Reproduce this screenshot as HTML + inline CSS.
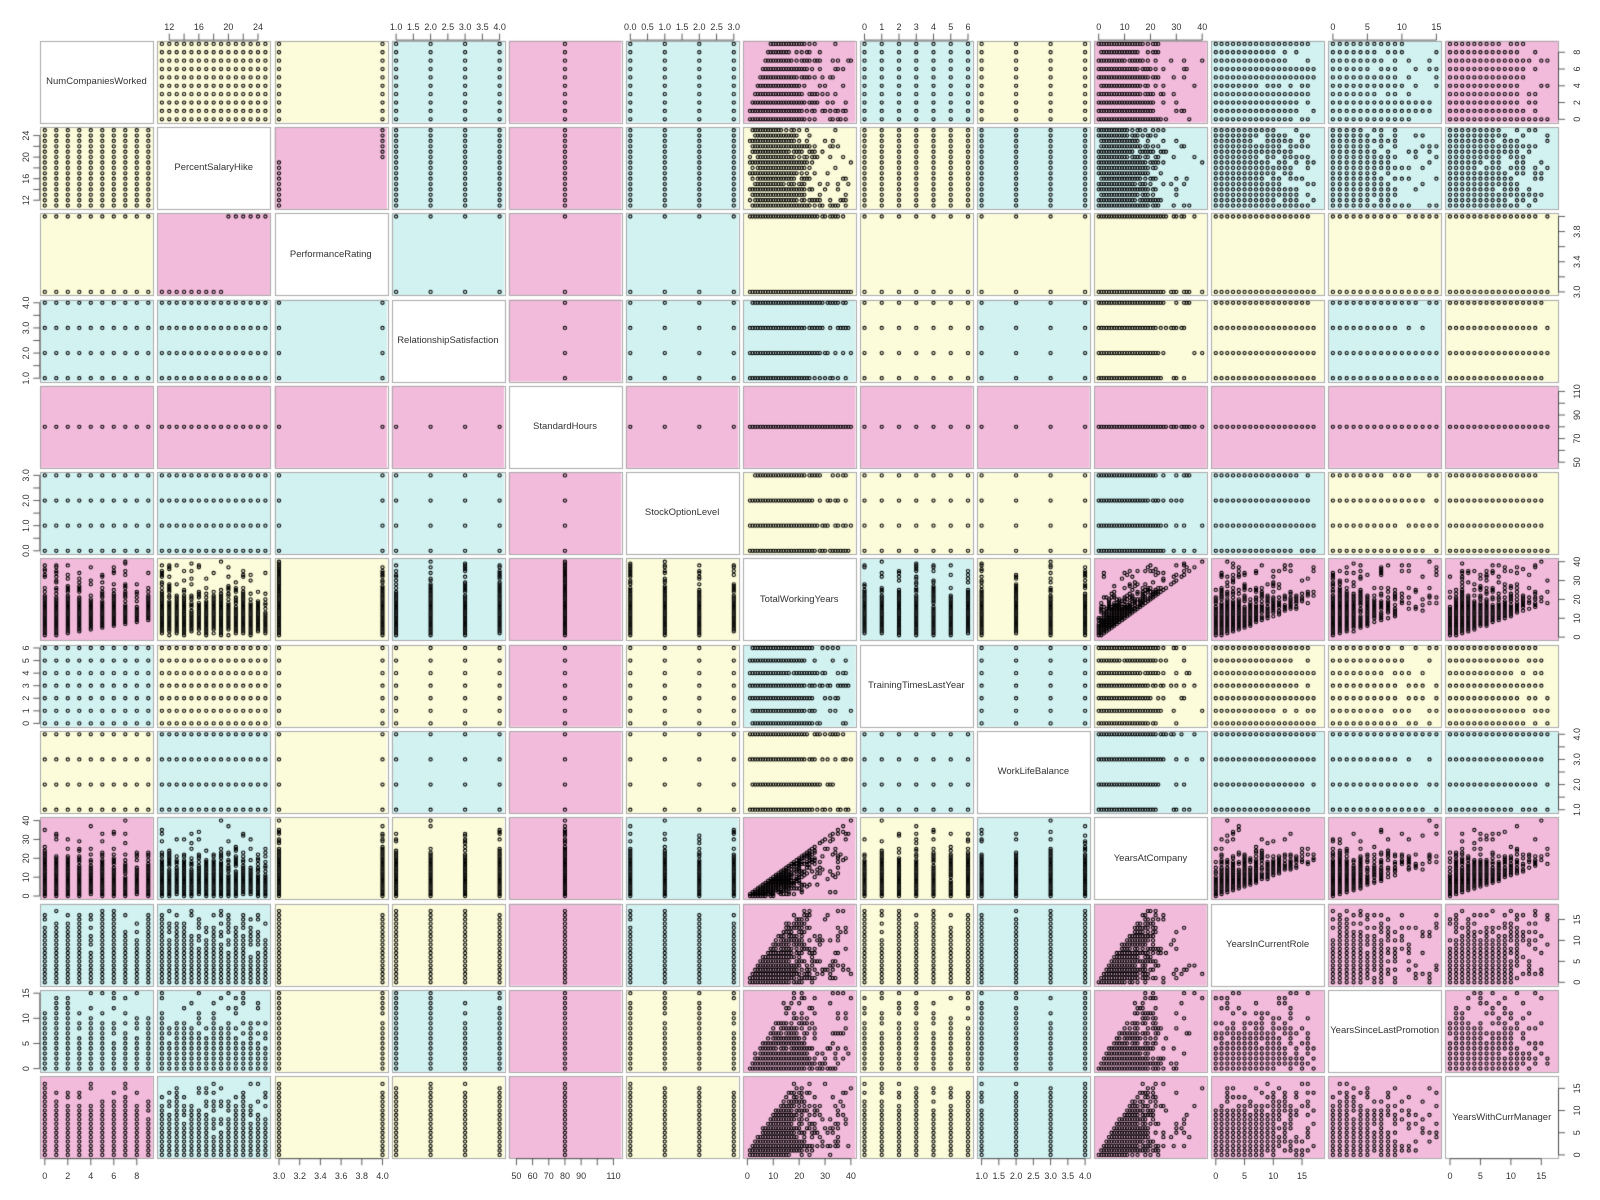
<!DOCTYPE html>
<html><head><meta charset="utf-8">
<style>
html,body{margin:0;padding:0;background:#fff;}
#wrap{position:relative;width:1600px;height:1200px;overflow:hidden;}
canvas,svg{position:absolute;left:0;top:0;}
svg text{font-family:"Liberation Sans",sans-serif;fill:#333;}
.t{font-size:9px;text-anchor:middle;}
.d{font-size:9.5px;text-anchor:middle;fill:#111;}
</style></head><body>
<div id="wrap">
<canvas id="c" width="1600" height="1200"></canvas>
<svg width="1600" height="1200" viewBox="0 0 1600 1200">
<g class="t">
<text x="169.3" y="30">12</text><text x="198.9" y="30">16</text><text x="228.4" y="30">20</text><text x="258.0" y="30">24</text>
<text x="396.1" y="30">1.0</text><text x="413.3" y="30">1.5</text><text x="430.6" y="30">2.0</text><text x="447.9" y="30">2.5</text><text x="465.1" y="30">3.0</text><text x="482.4" y="30">3.5</text><text x="499.6" y="30">4.0</text>
<text x="630.3" y="30">0.0</text><text x="647.5" y="30">0.5</text><text x="664.8" y="30">1.0</text><text x="682.1" y="30">1.5</text><text x="699.3" y="30">2.0</text><text x="716.6" y="30">2.5</text><text x="733.8" y="30">3.0</text>
<text x="864.5" y="30">0</text><text x="881.8" y="30">1</text><text x="899.0" y="30">2</text><text x="916.3" y="30">3</text><text x="933.5" y="30">4</text><text x="950.8" y="30">5</text><text x="968.0" y="30">6</text>
<text x="1098.7" y="30">0</text><text x="1124.6" y="30">10</text><text x="1150.5" y="30">20</text><text x="1176.4" y="30">30</text><text x="1202.2" y="30">40</text>
<text x="1332.9" y="30">0</text><text x="1367.4" y="30">5</text><text x="1401.9" y="30">10</text><text x="1436.4" y="30">15</text>
<text x="44.8" y="1179">0</text><text x="67.8" y="1179">2</text><text x="90.8" y="1179">4</text><text x="113.8" y="1179">6</text><text x="136.8" y="1179">8</text>
<text x="279.0" y="1179">3.0</text><text x="299.7" y="1179">3.2</text><text x="320.4" y="1179">3.4</text><text x="341.1" y="1179">3.6</text><text x="361.8" y="1179">3.8</text><text x="382.5" y="1179">4.0</text>
<text x="516.4" y="1179">50</text><text x="532.6" y="1179">60</text><text x="548.8" y="1179">70</text><text x="565.0" y="1179">80</text><text x="581.1" y="1179">90</text><text x="613.5" y="1179">110</text>
<text x="747.4" y="1179">0</text><text x="773.3" y="1179">10</text><text x="799.2" y="1179">20</text><text x="825.1" y="1179">30</text><text x="850.9" y="1179">40</text>
<text x="981.6" y="1179">1.0</text><text x="998.8" y="1179">1.5</text><text x="1016.1" y="1179">2.0</text><text x="1033.4" y="1179">2.5</text><text x="1050.6" y="1179">3.0</text><text x="1067.9" y="1179">3.5</text><text x="1085.1" y="1179">4.0</text>
<text x="1215.8" y="1179">0</text><text x="1244.5" y="1179">5</text><text x="1273.3" y="1179">10</text><text x="1302.0" y="1179">15</text>
<text x="1450.0" y="1179">0</text><text x="1480.4" y="1179">5</text><text x="1510.9" y="1179">10</text><text x="1541.3" y="1179">15</text>
<text transform="translate(29,200.2) rotate(-90)">12</text><text transform="translate(29,178.7) rotate(-90)">16</text><text transform="translate(29,157.1) rotate(-90)">20</text><text transform="translate(29,135.6) rotate(-90)">24</text>
<text transform="translate(29,378.2) rotate(-90)">1.0</text><text transform="translate(29,353.1) rotate(-90)">2.0</text><text transform="translate(29,328.0) rotate(-90)">3.0</text><text transform="translate(29,302.8) rotate(-90)">4.0</text>
<text transform="translate(29,550.8) rotate(-90)">0.0</text><text transform="translate(29,525.7) rotate(-90)">1.0</text><text transform="translate(29,500.6) rotate(-90)">2.0</text><text transform="translate(29,475.4) rotate(-90)">3.0</text>
<text transform="translate(29,723.4) rotate(-90)">0</text><text transform="translate(29,710.8) rotate(-90)">1</text><text transform="translate(29,698.3) rotate(-90)">2</text><text transform="translate(29,685.7) rotate(-90)">3</text><text transform="translate(29,673.1) rotate(-90)">4</text><text transform="translate(29,660.6) rotate(-90)">5</text><text transform="translate(29,648.0) rotate(-90)">6</text>
<text transform="translate(29,896.0) rotate(-90)">0</text><text transform="translate(29,877.2) rotate(-90)">10</text><text transform="translate(29,858.3) rotate(-90)">20</text><text transform="translate(29,839.4) rotate(-90)">30</text><text transform="translate(29,820.6) rotate(-90)">40</text>
<text transform="translate(29,1068.6) rotate(-90)">0</text><text transform="translate(29,1043.5) rotate(-90)">5</text><text transform="translate(29,1018.3) rotate(-90)">10</text><text transform="translate(29,993.2) rotate(-90)">15</text>
<text transform="translate(1580,119.3) rotate(-90)">0</text><text transform="translate(1580,102.6) rotate(-90)">2</text><text transform="translate(1580,85.8) rotate(-90)">4</text><text transform="translate(1580,69.0) rotate(-90)">6</text><text transform="translate(1580,52.3) rotate(-90)">8</text>
<text transform="translate(1580,291.9) rotate(-90)">3.0</text><text transform="translate(1580,261.7) rotate(-90)">3.4</text><text transform="translate(1580,231.6) rotate(-90)">3.8</text>
<text transform="translate(1580,462.2) rotate(-90)">50</text><text transform="translate(1580,438.6) rotate(-90)">70</text><text transform="translate(1580,415.0) rotate(-90)">90</text><text transform="translate(1580,391.4) rotate(-90)">110</text>
<text transform="translate(1580,637.1) rotate(-90)">0</text><text transform="translate(1580,618.3) rotate(-90)">10</text><text transform="translate(1580,599.4) rotate(-90)">20</text><text transform="translate(1580,580.5) rotate(-90)">30</text><text transform="translate(1580,561.7) rotate(-90)">40</text>
<text transform="translate(1580,809.7) rotate(-90)">1.0</text><text transform="translate(1580,784.6) rotate(-90)">2.0</text><text transform="translate(1580,759.4) rotate(-90)">3.0</text><text transform="translate(1580,734.3) rotate(-90)">4.0</text>
<text transform="translate(1580,982.3) rotate(-90)">0</text><text transform="translate(1580,961.4) rotate(-90)">5</text><text transform="translate(1580,940.4) rotate(-90)">10</text><text transform="translate(1580,919.5) rotate(-90)">15</text>
<text transform="translate(1580,1154.9) rotate(-90)">0</text><text transform="translate(1580,1132.7) rotate(-90)">5</text><text transform="translate(1580,1110.5) rotate(-90)">10</text><text transform="translate(1580,1088.4) rotate(-90)">15</text>
</g>
<g class="d">
<text x="96.5" y="84">NumCompaniesWorked</text>
<text x="213.7" y="170">PercentSalaryHike</text>
<text x="330.8" y="257">PerformanceRating</text>
<text x="447.9" y="343">RelationshipSatisfaction</text>
<text x="565.0" y="429">StandardHours</text>
<text x="682.1" y="515">StockOptionLevel</text>
<text x="799.2" y="602">TotalWorkingYears</text>
<text x="916.3" y="688">TrainingTimesLastYear</text>
<text x="1033.4" y="774">WorkLifeBalance</text>
<text x="1150.5" y="861">YearsAtCompany</text>
<text x="1267.6" y="947">YearsInCurrentRole</text>
<text x="1384.7" y="1033">YearsSinceLastPromotion</text>
<text x="1501.8" y="1120">YearsWithCurrManager</text>
</g>
</svg>
</div>
<script>
(function(){
var X0=40.3,PX=117.1,W=112.5,Y0=40.6,PY=86.3,H=82;
var cm=[
"WYYCPCPCYPCCP",
"YWPCPCYYCCCCC",
"YPWCPCYYYYYYY",
"CCCWPCCYCYYCY",
"PPPPWPPPPPPPP",
"CCCCPWYYYCCYY",
"PYYCPYWCYPPPP",
"CYYYPYCWCYYYY",
"YCYCPYYCWCCCC",
"PCYYPCPYCWPPP",
"CCYYPCPYCPWPP",
"CCYCPYPYCPPWP",
"PCYYPYPYCPPPW"];
var col={P:'#F2BBDB',Y:'#FCFCDA',C:'#D2F2F2',W:'#FFFFFF'};
var R=[[0,9],[11,25],[3,4],[1,4],[48,112],[0,3],[0,40],[0,6],[1,4],[0,40],[0,18],[0,15],[0,17]];
var T=[[0,2,4,6,8],[12,14,16,18,20,22,24],[3,3.2,3.4,3.6,3.8,4],[1,1.5,2,2.5,3,3.5,4],[50,60,70,80,90,100,110],[0,.5,1,1.5,2,2.5,3],[0,10,20,30,40],[0,1,2,3,4,5,6],[1,1.5,2,2.5,3,3.5,4],[0,10,20,30,40],[0,5,10,15],[0,5,10,15],[0,5,10,15]];
var s=12345;function U(){s|=0;s=s+0x6D2B79F5|0;var t=Math.imul(s^s>>>15,1|s);t=t+Math.imul(t^t>>>7,61|t)^t;return((t^t>>>14)>>>0)/4294967296;}
function G(){return Math.sqrt(-2*Math.log(U()+1e-9))*Math.cos(6.2832*U());}
function cl(v,a,b){return Math.max(a,Math.min(b,v));}
var D=[];
for(var i=0;i<1400;i++){
 var t=cl(Math.round(Math.abs(G())*10+U()*4),0,40); if(U()<0.02)t=Math.round(28+U()*12);
 var y=U()<0.3?t:Math.round(t*Math.pow(U(),0.6)); y=cl(y,0,40);
 var r=cl(Math.round(Math.min(y,18)*U()*0.95),0,18);
 var sl=cl(Math.round(y*U()*U()),0,15);
 var m=cl(Math.round(Math.min(y,17)*U()*0.95),0,17);
 var ncw=cl(Math.floor(Math.pow(U(),1.3)*10),0,9);
 var psh=cl(11+Math.floor(Math.pow(U(),1.4)*15),11,25);
 var pr=psh>=20?4:3;
 var rs=1+Math.floor(U()*4), wlb=1+Math.floor(U()*4);
 var sol=cl(Math.floor(Math.pow(U(),1.5)*4),0,3);
 var tt=Math.floor(U()*7);
 if(ncw>0&&t<ncw)t=ncw;
 D.push([ncw,psh,pr,rs,80,sol,t,tt,wlb,y,r,sl,m]);
}
var c=document.getElementById('c').getContext('2d');
function fx(k,v){var a=R[k][0],b=R[k][1];return 0.04+0.92*(v-a)/(b-a);}
for(var j=0;j<13;j++)for(var i=0;i<13;i++){
 var x=X0+PX*i,yy=Y0+PY*j;
 c.fillStyle=col[cm[j][i]];c.fillRect(x,yy,W,H);
 c.strokeStyle='#a8a8a8';c.lineWidth=1;c.strokeRect(Math.round(x)+0.5,Math.round(yy)+0.5,Math.round(W),Math.round(H));
 if(i==j)continue;
 c.save();c.beginPath();c.rect(x,yy,W,H);c.clip();
 c.strokeStyle='#000';c.lineWidth=1.1;
 var seen={};
 for(var n=0;n<D.length;n++){
  var px=x+W*fx(i,D[n][i]),py=yy+H*(1-fx(j,D[n][j]));
  var key=Math.round(px*2)+'_'+Math.round(py*2);if(seen[key])continue;seen[key]=1;
  c.beginPath();c.arc(px,py,1.6,0,6.2832);c.stroke();
 }
 c.restore();
}
c.strokeStyle='#333';c.lineWidth=0.8;
function L(a,b,d,e){c.beginPath();c.moveTo(a,b);c.lineTo(d,e);c.stroke();}
for(var k=0;k<13;k++){
 var x=X0+PX*k,yy=Y0+PY*k,tk=T[k];
 var p0=fx(k,tk[0]),p1=fx(k,tk[tk.length-1]);
 if(k%2==1){
  var top=Y0;L(x+W*p0,top-0.5,x+W*p1,top-0.5);
  tk.forEach(function(v){var px=x+W*fx(k,v);L(px,top-0.5,px,top-7);});
  L(X0-0.5,yy+H*(1-p0),X0-0.5,yy+H*(1-p1));
  tk.forEach(function(v){var py=yy+H*(1-fx(k,v));L(X0-0.5,py,X0-7,py);});
 }else{
  var bot=Y0+PY*12+H+0.5;L(x+W*p0,bot,x+W*p1,bot);
  tk.forEach(function(v){var px=x+W*fx(k,v);L(px,bot,px,bot+6.5);});
  var rx=X0+PX*12+W+0.5;L(rx,yy+H*(1-p0),rx,yy+H*(1-p1));
  tk.forEach(function(v){var py=yy+H*(1-fx(k,v));L(rx,py,rx+6.5,py);});
 }
}
})();
</script>
</body></html>
